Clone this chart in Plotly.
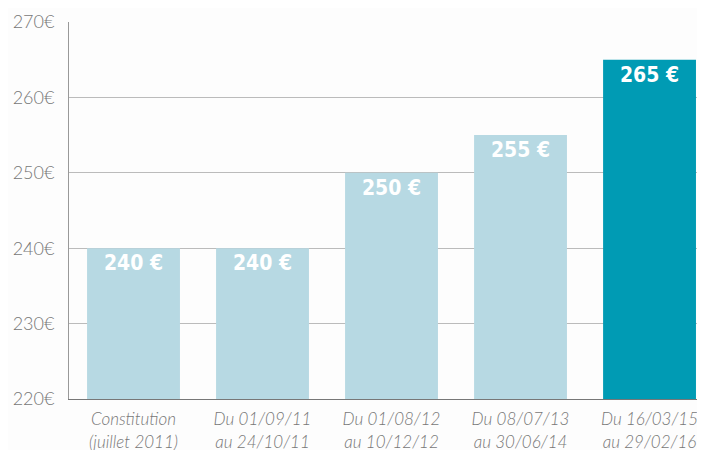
import plotly.graph_objects as go

categories = ["Constitution<br>(juillet 2011)", "Du 01/09/11<br>au 24/10/11", "Du 01/08/12<br>au 10/12/12",
              "Du 08/07/13<br>au 30/06/14", "Du 16/03/15<br>au 29/02/16"]
values = [240, 240, 250, 255, 265]
bar_labels = ["240 €", "240 €", "250 €", "255 €", "265 €"]
y_ticks = [220, 230, 240, 250, 260, 270]
y_tick_labels = ["220€", "230€", "240€", "250€", "260€", "270€"]
colors = ["#b7d9e3", "#b7d9e3", "#b7d9e3", "#b7d9e3", "#009bb4"]

fig = go.Figure(go.Bar(
    x=list(range(len(categories))), y=values, base=0,
    marker=dict(color=colors, line=dict(width=0)),
    text=bar_labels, textposition="inside", insidetextanchor="end",
    textfont=dict(color="white", size=21, family="DejaVu Sans Condensed, Liberation Sans Narrow, sans-serif"),
    cliponaxis=True, hoverinfo="skip",
))
fig.update_traces(texttemplate="<b>%{text}</b>")

fig.update_layout(
    width=697, height=442,
    margin=dict(l=61, r=0, t=14, b=51, autoexpand=False),
    paper_bgcolor="#fdfdfd", plot_bgcolor="rgba(0,0,0,0)",
    bargap=0.28, showlegend=False,
    uniformtext=dict(mode=False),
    xaxis=dict(range=[-0.5, 4.43], tickvals=list(range(len(categories))),
               ticktext=["<i>" + c.replace("<br>", "</i><br><i>") + "</i>" for c in categories],
               showgrid=False, zeroline=False, showline=True, linecolor="#777", linewidth=1,
               automargin=False,
               tickfont=dict(family="Lato, sans-serif", size=17, color="#777", weight=300),
               ticks="", ticklen=0, ticklabelstandoff=5),
    yaxis=dict(range=[220, 270], tickvals=y_ticks, ticktext=y_tick_labels,
               showgrid=True, gridcolor="#bbbbbb", gridwidth=1, zeroline=False,
               showline=True, linecolor="#999", linewidth=1, automargin=False,
               tickfont=dict(family="Lato, sans-serif", size=18, color="#777", weight=300),
               ticks="", ticklabelstandoff=10),
)
fig.write_html("out.html")
